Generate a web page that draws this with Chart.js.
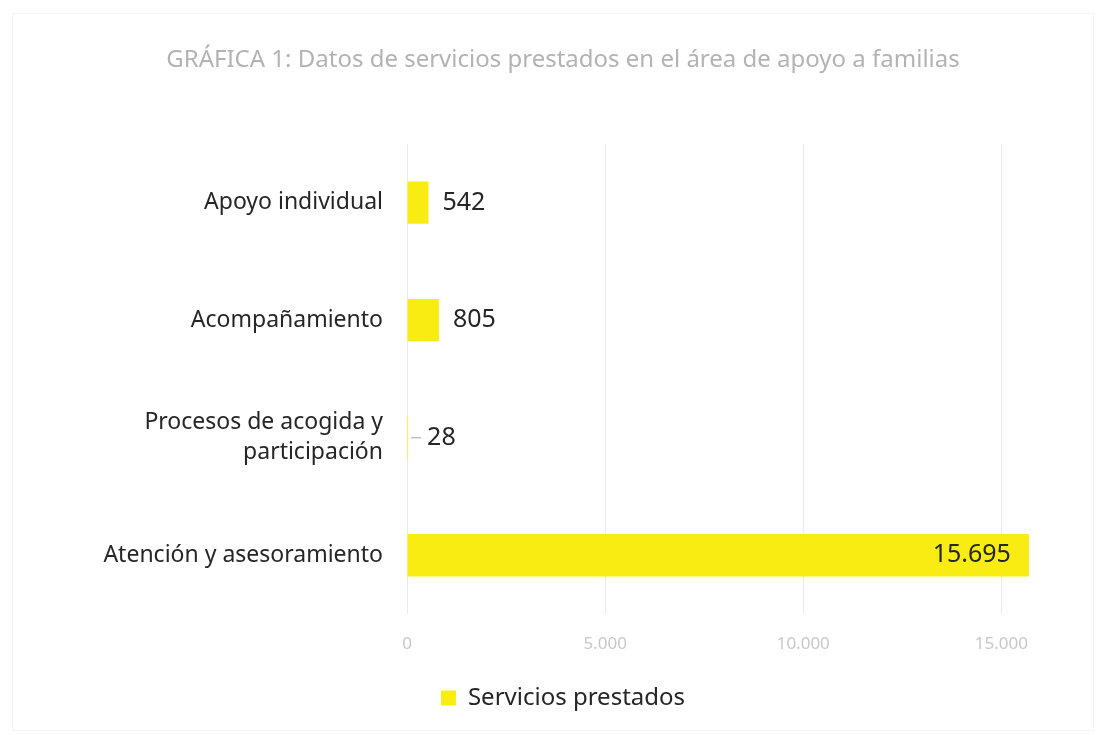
<!DOCTYPE html>
<html lang="es">
<head>
    <meta charset="UTF-8">
    <title>Gráfica 1</title>
    <script src="https://cdn.jsdelivr.net/npm/chart.js"></script>
    <style>
        body {
            margin: 0;
            padding: 0;
            background: #fff;
        }
        .chart-box {
            position: relative;
            width: 1102px;
            height: 735px;
        }
        .frame {
            position: absolute;
            left: 12px;
            top: 13px;
            right: 8px;
            bottom: 4px;
            border: 1px solid #f3f3f3;
            pointer-events: none;
        }
    </style>
</head>
<body>
    <div class="chart-box">
        <canvas id="barChart" width="1102" height="735"></canvas>
        <div class="frame"></div>
    </div>

    <script>
        // data
        const categories = ['Apoyo individual', 'Acompañamiento', ['Procesos de acogida y', 'participación'], 'Atención y asesoramiento'];
        const servicios = [542, 805, 28, 15695];
        const tickValues = [0, 5000, 10000, 15000];

        const yellow = '#f9ec12';
        const labelFont = "'Noto Sans', 'Open Sans', sans-serif";

        // 15695 -> "15.695"
        function fmt(n) {
            return String(n).replace(/\B(?=(\d{3})+(?!\d))/g, '.');
        }

        // value labels next to / inside the bars
        const valueLabels = {
            id: 'valueLabels',
            afterDatasetsDraw(chart) {
                const ctx = chart.ctx;
                const meta = chart.getDatasetMeta(0);
                const xScale = chart.scales.x;
                ctx.save();
                ctx.font = '25px ' + labelFont;
                ctx.fillStyle = '#262626';
                ctx.textBaseline = 'middle';
                meta.data.forEach((bar, i) => {
                    const v = servicios[i];
                    const end = bar.x;
                    const start = xScale.getPixelForValue(0);
                    if (end > xScale.right - 60) {
                        ctx.textAlign = 'right';
                        ctx.fillText(fmt(v), end - 18, bar.y);
                    } else if (end - start < 4) {
                        // tiny bar: short leader line then label
                        ctx.strokeStyle = '#bfbfbf';
                        ctx.lineWidth = 1.5;
                        ctx.beginPath();
                        ctx.moveTo(end + 3, bar.y);
                        ctx.lineTo(end + 13, bar.y);
                        ctx.stroke();
                        ctx.textAlign = 'left';
                        ctx.fillText(fmt(v), end + 19, bar.y);
                    } else {
                        ctx.textAlign = 'left';
                        ctx.fillText(fmt(v), end + 14, bar.y);
                    }
                });
                ctx.restore();
            }
        };

        const ctx = document.getElementById('barChart').getContext('2d');
        const chart = new Chart(ctx, {
            type: 'bar',
            data: {
                labels: categories,
                datasets: [{
                    label: 'Servicios prestados',
                    data: servicios,
                    backgroundColor: yellow,
                    borderWidth: 0,
                    categoryPercentage: 0.4,
                    barPercentage: 0.9
                }]
            },
            options: {
                indexAxis: 'y',
                responsive: false,
                animation: false,
                layout: { padding: { left: 85, right: 61, top: 0, bottom: 15 } },
                plugins: {
                    tooltip: { enabled: false },
                    title: {
                        display: true,
                        text: 'GRÁFICA 1: Datos de servicios prestados en el área de apoyo a familias',
                        color: '#b3b3b3',
                        font: { family: labelFont, size: 24, weight: 'normal' },
                        padding: { top: 46, bottom: 69 }
                    },
                    legend: {
                        display: true,
                        position: 'bottom',
                        labels: {
                            color: '#262626',
                            font: { family: labelFont, size: 24 },
                            boxWidth: 15,
                            boxHeight: 15,
                            padding: 10
                        }
                    }
                },
                scales: {
                    x: {
                        min: 0,
                        max: 16000,
                        afterBuildTicks: (scale) => {
                            scale.ticks = tickValues.map(v => ({ value: v }));
                        },
                        afterFit: (scale) => { scale.height = 62; },
                        grid: { color: '#ebebeb', lineWidth: 1, drawTicks: false },
                        border: { display: false },
                        ticks: {
                            padding: 20,
                            color: '#c8c8c8',
                            font: { family: labelFont, size: 17 },
                            callback: (v) => fmt(v)
                        }
                    },
                    y: {
                        afterFit: (scale) => { scale.width = 322; },
                        grid: { display: false },
                        border: { display: false },
                        ticks: {
                            padding: 16,
                            color: '#262626',
                            font: { family: labelFont, size: 23, lineHeight: 1.3 }
                        }
                    }
                }
            },
            plugins: [valueLabels]
        });
    </script>
</body>
</html>
